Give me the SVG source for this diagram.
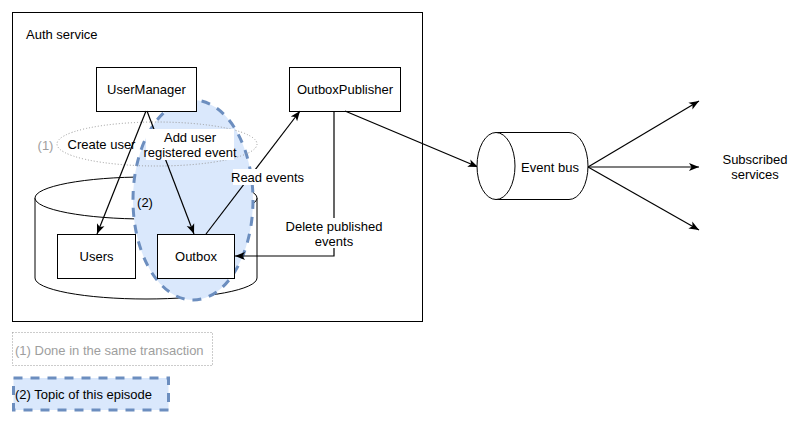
<svg xmlns="http://www.w3.org/2000/svg" width="800" height="423" viewBox="0 0 800 423">
<defs>
<marker id="arr" viewBox="0 0 10 10" refX="10" refY="5" markerWidth="10" markerHeight="10" markerUnits="userSpaceOnUse" orient="auto">
<path d="M0,1 L10,5 L0,9 L2.5,5 z" fill="#000"/>
</marker>
<style>
text{font-family:"Liberation Sans",Arial,Helvetica,sans-serif;font-size:13px;fill:#000}
.c{text-anchor:middle}
.g{fill:#9e9e9e}
.box{fill:#fff;stroke:#000;stroke-width:1}
.edge{fill:none;stroke:#000;stroke-width:1.2;marker-end:url(#arr)}
.lbl{fill:#fff;stroke:none}
.blue{fill:#dae8fc;stroke:#6c8ebf;stroke-width:3;stroke-dasharray:9 8}
.dot{fill:none;stroke:#999;stroke-width:1;stroke-dasharray:1 2}
</style>
</defs>
<g id="auth-service">
<rect class="box" x="12.5" y="12.5" width="410" height="309"/>
<text x="26" y="39">Auth service</text>
</g>
<g id="database">
<path class="box" d="M35,198 L35,278 A111,21 0 0 0 257,278 L257,198"/>
<ellipse class="box" cx="146" cy="198" rx="111" ry="21"/>
</g>
<g id="topic-ellipse">
<ellipse class="blue" cx="193" cy="200" rx="60" ry="100"/>
<text class="c" x="145" y="206.5">(2)</text>
</g>
<g id="transaction-ellipse">
<ellipse class="dot" cx="157" cy="144" rx="100" ry="22"/>
<text class="c g" x="45.5" y="149.5">(1)</text>
</g>
<g id="usermanager">
<rect class="box" x="96.5" y="67.5" width="100" height="44"/>
<text class="c" x="146.5" y="94">UserManager</text>
</g>
<g id="outboxpublisher">
<rect class="box" x="289.5" y="67.5" width="111" height="44"/>
<text class="c" x="345" y="94">OutboxPublisher</text>
</g>
<g id="users">
<rect class="box" x="57.5" y="234.5" width="78" height="44"/>
<text class="c" x="96.5" y="261">Users</text>
</g>
<g id="outbox">
<rect class="box" x="157.5" y="234.5" width="77" height="44"/>
<text class="c" x="196" y="261">Outbox</text>
</g>
<g id="connectors">
<path class="edge" d="M146,111 L97,234"/>
<path class="edge" d="M147,111 L194,234"/>
<path class="edge" d="M206,234 L300,111"/>
<path class="edge" d="M334,111 L334,256 L235,256"/>
<path class="edge" d="M345,111 L478,167"/>
<path class="edge" d="M588,167 L699,101"/>
<path class="edge" d="M588,167 L699,167"/>
<path class="edge" d="M588,167 L699,230"/>
<text class="c" x="101.5" y="148.5">Create user</text>
<rect class="lbl" x="146" y="129" width="88" height="31"/>
<text class="c" x="190" y="141.5">Add user</text>
<text class="c" x="190" y="156.5">registered event</text>
<rect class="lbl" x="233" y="169" width="69" height="16"/>
<text class="c" x="267.5" y="181.5">Read events</text>
<rect class="lbl" x="289" y="218" width="91" height="30"/>
<text class="c" x="334" y="230.5">Delete published</text>
<text class="c" x="334" y="245.5">events</text>
</g>
<g id="event-bus">
<path class="box" d="M496,132.5 L569,132.5 A19,33.5 0 0 1 569,199.5 L496,199.5 Z"/>
<ellipse class="box" cx="496" cy="166" rx="19" ry="33.5"/>
<text class="c" x="550" y="171.5">Event bus</text>
</g>
<g id="subscribed-services">
<text class="c" x="755" y="163.5">Subscribed</text>
<text class="c" x="755" y="178.5">services</text>
</g>
<g id="legend-1">
<rect class="dot" x="12.5" y="332.5" width="200" height="33"/>
<text class="g" x="15" y="354.5">(1) Done in the same transaction</text>
</g>
<g id="legend-2">
<rect class="blue" x="13.5" y="378" width="155" height="32"/>
<text x="15" y="398.5">(2) Topic of this episode</text>
</g>
</svg>
